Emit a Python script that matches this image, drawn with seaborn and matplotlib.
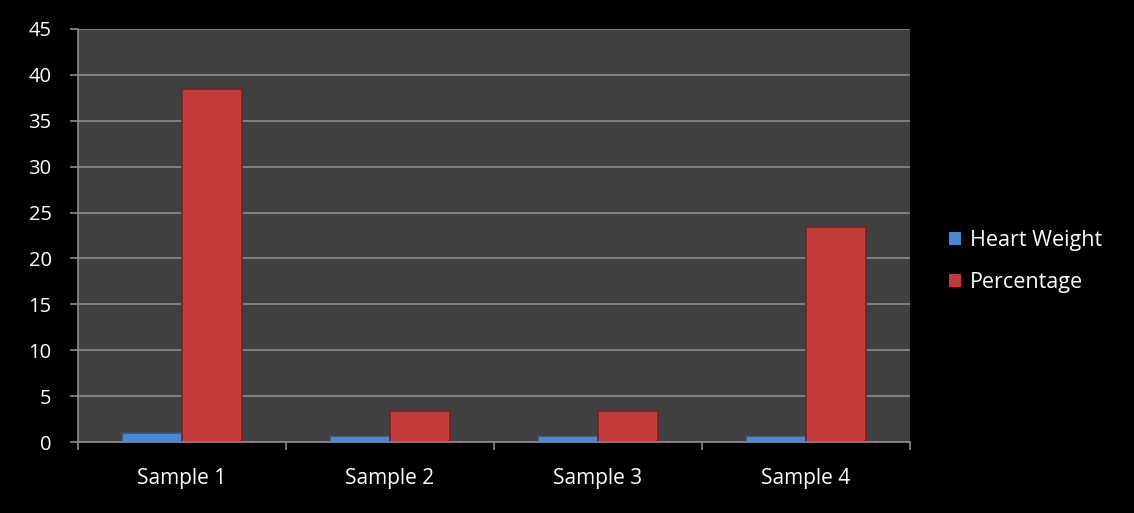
import matplotlib
matplotlib.use("Agg")
import matplotlib.pyplot as plt
import seaborn as sns
import pandas as pd
from matplotlib.ticker import MultipleLocator, FixedLocator, NullFormatter

samples = ["Sample 1", "Sample 2", "Sample 3", "Sample 4"]
heart_weight = [0.95, 0.7, 0.7, 0.7]
percentage = [38.45, 3.4, 3.4, 23.4]
series_names = ["Heart Weight", "Percentage"]

df = pd.DataFrame({
    "Sample": samples * 2,
    "Series": [series_names[0]] * 4 + [series_names[1]] * 4,
    "Value": heart_weight + percentage,
})

sns.set_style("dark")
plt.rcParams["font.family"] = ["Open Sans", "DejaVu Sans"]

fig = plt.figure(figsize=(11.34, 5.13), dpi=100, facecolor="black")
ax = fig.add_axes([0.0688, 0.1384, 0.7337, 0.8051])
ax.set_facecolor("#404040")

palette = {"Heart Weight": "#4a88d4", "Percentage": "#c23a3a"}
sns.barplot(data=df, x="Sample", y="Value", hue="Series", palette=palette,
            width=0.58, ax=ax, saturation=1, edgecolor="none", legend=False)

# darker rim on each bar for a bevelled look
for p in ax.patches:
    fc = p.get_facecolor()
    p.set_edgecolor((fc[0] * 0.6, fc[1] * 0.6, fc[2] * 0.6, 1))
    p.set_linewidth(1.2)

ax.set_xlim(-0.5, 3.5)
ax.set_ylim(0, 45)
ax.yaxis.set_major_locator(MultipleLocator(5))
ax.grid(axis="y", color="#8c8c8c", linewidth=1.2)
ax.grid(axis="x", visible=False)
ax.set_axisbelow(True)

ax.xaxis.set_minor_locator(FixedLocator([-0.5, 0.5, 1.5, 2.5, 3.5]))
ax.xaxis.set_minor_formatter(NullFormatter())
ax.tick_params(axis="x", which="major", length=0, colors="white", labelsize=15, pad=19)
ax.tick_params(axis="x", which="minor", length=6, width=1.2, color="#8c8c8c", direction="out", bottom=True)
ax.tick_params(axis="y", which="major", length=6, width=1.2, color="#8c8c8c", direction="out",
               left=True, labelcolor="white", labelsize=14.5, pad=13)

for side in ["top", "right"]:
    ax.spines[side].set_visible(False)
for side in ["left", "bottom"]:
    ax.spines[side].set_visible(True)
    ax.spines[side].set_color("#8c8c8c")
    ax.spines[side].set_linewidth(1.2)

ax.set_xlabel("")
ax.set_ylabel("")

handles = [plt.Rectangle((0, 0), 1, 1, facecolor=palette[n], edgecolor="none") for n in series_names]
leg = fig.legend(handles, series_names, loc="center left", bbox_to_anchor=(0.82, 0.49),
                 frameon=False, fontsize=15.5, labelcolor="white",
                 handlelength=0.55, handleheight=0.55, handletextpad=0.4, labelspacing=0.95)

fig.savefig("out.png", dpi=100, facecolor="black")
